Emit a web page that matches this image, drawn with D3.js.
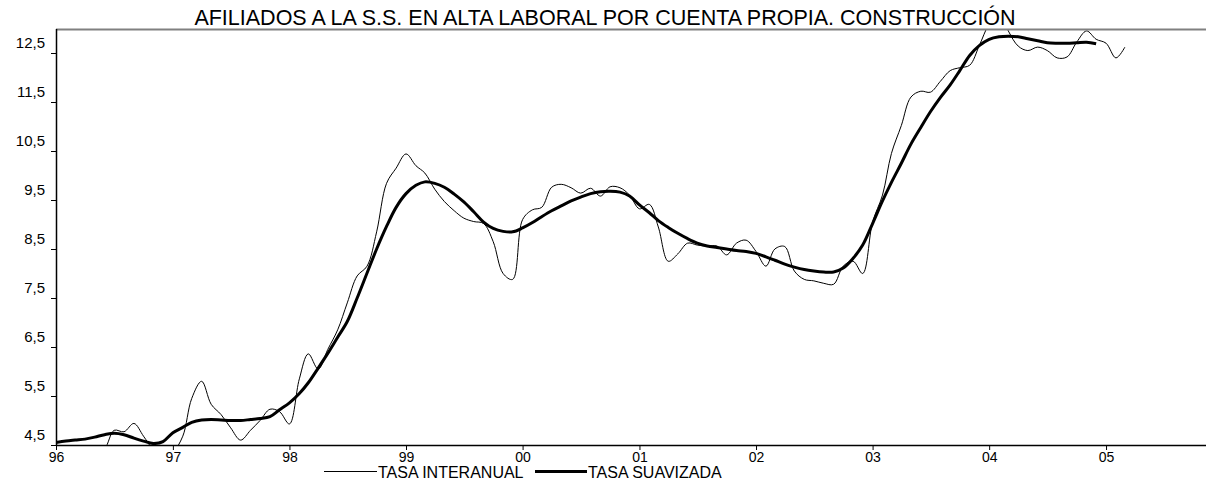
<!DOCTYPE html>
<html>
<head>
<meta charset="utf-8">
<script src="https://cdn.jsdelivr.net/npm/d3@7"></script>
<style>
  body { margin: 0; background: #fff; }
  svg { display: block; }
  text { font-family: "Liberation Sans", Arial, Helvetica, sans-serif; fill: #000; }
</style>
</head>
<body>
<svg id="chart" width="1206" height="485"></svg>
<script>
// Chart text
const chartTitle = "AFILIADOS A LA S.S. EN ALTA LABORAL POR CUENTA PROPIA. CONSTRUCCIÓN";
const seriesNames = ["TASA INTERANUAL", "TASA SUAVIZADA"];

// Monthly observations, first one is January 1996
const firstYear = 1996;

// Year-on-year rate (monthly)
const tasaInteranual = [
  4.30, 4.22, 4.20, 4.25, 4.32, 4.42, 4.80, 4.77, 4.94, 4.68, 4.40, 4.25,
  4.35, 4.68, 5.45, 5.80, 5.33, 5.12, 4.85, 4.60, 4.80, 5.00, 5.23, 5.18,
  4.93, 5.85, 6.36, 6.05, 6.45, 6.85, 7.40, 7.95, 8.15, 8.85, 9.84, 10.15,
  10.44, 10.20, 10.05, 9.72, 9.47, 9.28, 9.13, 9.06, 9.02, 8.65, 8.00, 7.88,
  9.10, 9.30, 9.35, 9.76, 9.82, 9.75, 9.64, 9.74, 9.58, 9.77, 9.75, 9.60,
  9.32, 9.41, 8.95, 8.25, 8.40, 8.62, 8.58, 8.56, 8.56, 8.38, 8.62, 8.68,
  8.45, 8.15, 8.50, 8.55, 8.05, 7.88, 7.85, 7.80, 7.78, 8.15, 8.25, 8.00,
  9.05, 9.60, 10.45, 11.02, 11.60, 11.72, 11.70, 11.92, 12.14, 12.20, 12.25, 12.65,
  13.10, 13.35, 12.95, 12.64, 12.55, 12.62, 12.55, 12.40, 12.42, 12.72, 12.95, 12.78,
  12.70, 12.40, 12.62
];

// Smoothed rate (monthly)
const tasaSuavizada = [
  4.55, 4.58, 4.60, 4.62, 4.66, 4.71, 4.74, 4.71, 4.64, 4.58, 4.53, 4.57,
  4.75, 4.86, 4.96, 5.01, 5.02, 5.01, 5.00, 5.00, 5.02, 5.04, 5.08, 5.22,
  5.36, 5.55, 5.77, 6.07, 6.37, 6.70, 7.02, 7.50, 8.01, 8.50, 8.96, 9.35,
  9.63, 9.80, 9.87, 9.84, 9.76, 9.62, 9.46, 9.26, 9.05, 8.92, 8.86, 8.85,
  8.93, 9.04, 9.16, 9.28, 9.38, 9.48, 9.56, 9.63, 9.67, 9.68, 9.66, 9.58,
  9.40, 9.24, 9.08, 8.94, 8.82, 8.71, 8.62, 8.56, 8.53, 8.50, 8.47, 8.45,
  8.41, 8.34, 8.27, 8.19, 8.13, 8.08, 8.05, 8.03, 8.03, 8.11, 8.31, 8.58,
  9.02, 9.48, 9.86, 10.25, 10.64, 10.98, 11.30, 11.59, 11.85, 12.14, 12.45, 12.65,
  12.78, 12.83, 12.84, 12.83, 12.79, 12.75, 12.71, 12.70, 12.70, 12.71, 12.72, 12.69
];

// Axis ticks
const yTickValues = [4.5, 5.5, 6.5, 7.5, 8.5, 9.5, 10.5, 11.5, 12.5];
const xTickYears = [1996, 1997, 1998, 1999, 2000, 2001, 2002, 2003, 2004, 2005];

// Layout
const W = 1206, H = 485;
const plot = { left: 56, right: 1206, top: 29, bottom: 445 };

const svg = d3.select("#chart");

const monthDate = i => new Date(firstYear, i, 1);

const x = d3.scaleTime()
  .domain([new Date(firstYear, 0, 1), new Date(2005, 10, 10)])
  .range([plot.left, plot.right]);

const y = d3.scaleLinear()
  .domain([4.5, 12.5])
  .range([plot.bottom, 53]);

// Clip region for the plotted lines
svg.append("defs").append("clipPath").attr("id", "plot-clip")
  .append("rect")
  .attr("x", plot.left)
  .attr("y", plot.top)
  .attr("width", plot.right - plot.left)
  .attr("height", plot.bottom - plot.top);

// Title
svg.append("text")
  .attr("x", 605)
  .attr("y", 25)
  .attr("text-anchor", "middle")
  .style("font-size", "21.5px")
  .text(chartTitle);

// Lines
const line = d3.line()
  .x((d, i) => x(monthDate(i)))
  .y(d => y(d))
  .curve(d3.curveCatmullRom.alpha(0.5));

const lines = svg.append("g").attr("clip-path", "url(#plot-clip)");

lines.append("path")
  .datum(tasaInteranual)
  .attr("fill", "none")
  .attr("stroke", "#000")
  .attr("stroke-width", 1)
  .attr("d", line);

lines.append("path")
  .datum(tasaSuavizada)
  .attr("fill", "none")
  .attr("stroke", "#000")
  .attr("stroke-width", 3)
  .attr("stroke-linejoin", "round")
  .attr("d", line);

// Frame: grey top rule, black left and bottom axes
svg.append("line")
  .attr("x1", plot.left).attr("x2", plot.right)
  .attr("y1", plot.top + 0.5).attr("y2", plot.top + 0.5)
  .attr("stroke", "#808080").attr("stroke-width", 2);

// Y axis: labels sit just above their tick marks
const yAxis = d3.axisLeft(y)
  .tickValues(yTickValues)
  .tickSize(5)
  .tickPadding(6)
  .tickFormat(d => d3.format(".1f")(d).replace(".", ","));

const gy = svg.append("g")
  .attr("transform", `translate(${plot.left},0)`)
  .call(yAxis);
gy.select(".domain").remove();
gy.selectAll(".tick line").attr("stroke", "#000");
gy.selectAll(".tick text")
  .style("font-size", "15px")
  .attr("font-family", null)
  .attr("dy", "-0.4em");

svg.append("line")
  .attr("x1", plot.left + 0.5).attr("x2", plot.left + 0.5)
  .attr("y1", plot.top).attr("y2", plot.bottom)
  .attr("stroke", "#000").attr("stroke-width", 1.5);

// X axis
const xAxis = d3.axisBottom(x)
  .tickValues(xTickYears.map(yr => new Date(yr, 0, 1)))
  .tickSize(5)
  .tickPadding(2)
  .tickFormat(d3.timeFormat("%y"));

const gx = svg.append("g")
  .attr("transform", `translate(0,${plot.bottom})`)
  .call(xAxis);
gx.select(".domain").remove();
gx.selectAll(".tick line").attr("stroke", "#000");
gx.selectAll(".tick text").style("font-size", "14px").attr("font-family", null);

svg.append("line")
  .attr("x1", plot.left).attr("x2", plot.right)
  .attr("y1", plot.bottom + 0.5).attr("y2", plot.bottom + 0.5)
  .attr("stroke", "#000").attr("stroke-width", 1.5);

// Legend
const legend = svg.append("g");
const legendItems = [
  { name: seriesNames[0], x1: 324, x2: 377, width: 1 },
  { name: seriesNames[1], x1: 535, x2: 587, width: 3 }
];
legendItems.forEach(item => {
  legend.append("line")
    .attr("x1", item.x1).attr("x2", item.x2)
    .attr("y1", 471.5).attr("y2", 471.5)
    .attr("stroke", "#000").attr("stroke-width", item.width);
  legend.append("text")
    .attr("x", item.x2 + 1)
    .attr("y", 477.5)
    .style("font-size", "16px")
    .text(item.name);
});
</script>
</body>
</html>
